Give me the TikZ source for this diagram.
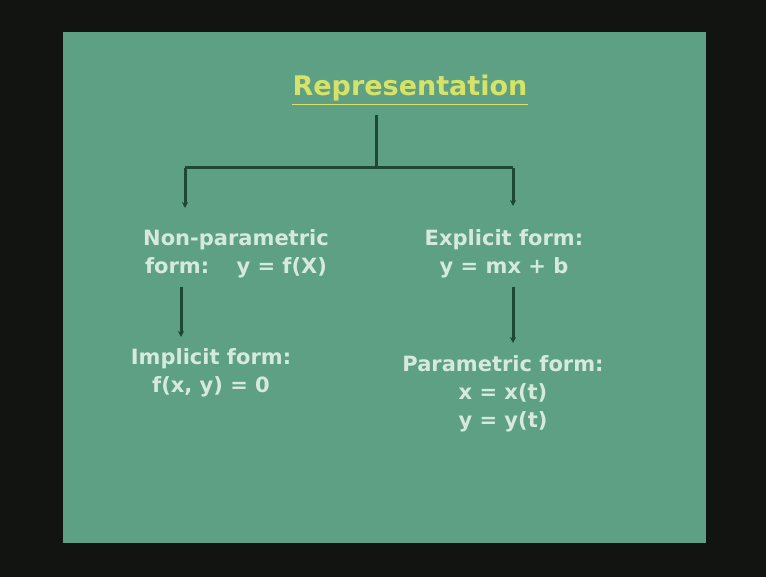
\documentclass[tikz,border=0pt]{standalone}
\usepackage{fontspec}
\setmainfont{DejaVu Sans}
\usetikzlibrary{arrows.meta}
\definecolor{bg}{RGB}{18,20,18}
\definecolor{slide}{RGB}{94,160,132}
\definecolor{txt}{RGB}{214,234,220}
\definecolor{ttl}{RGB}{214,226,104}
\definecolor{ln}{RGB}{28,72,52}
\begin{document}
\begin{tikzpicture}[x=1pt,y=-1pt,
  lbl/.style={text=txt,font=\bfseries\fontsize{21}{28}\selectfont,align=center,inner sep=0pt},
  conn/.style={draw=ln,line width=3pt},
  arr/.style={conn,-{Stealth[length=6pt,width=6pt]}}]
\useasboundingbox (0,0) rectangle (766,577);
\fill[bg] (0,0) rectangle (766,577);
\fill[slide] (63,32) rectangle (706,543);
\node[text=ttl,font=\bfseries\fontsize{27}{30}\selectfont,inner sep=0pt] (title) at (410,88) {Representation};
\draw[ttl,line width=1pt] ([yshift=-3pt]title.south west) -- ([yshift=-3pt]title.south east);
\node[lbl] (np) at (236,254) {Non-parametric\\form:\hspace{1.3em}y = f(X)};
\node[lbl] (ex) at (504,254) {Explicit form:\\y = mx + b};
\node[lbl] (im) at (211,373) {Implicit form:\\f(x, y) = 0};
\node[lbl] (pa) at (503,394) {Parametric form:\\x = x(t)\\y = y(t)};
\coordinate (top) at (376,115);
\coordinate (J) at (376,168);
\coordinate (L) at (185,168);
\coordinate (R) at (513,168);
\coordinate (Ltip) at (185,208);
\coordinate (Rtip) at (513,206);
\coordinate (npb) at (181,287);
\coordinate (imt) at (181,337);
\coordinate (exb) at (513,287);
\coordinate (pat) at (513,343);
\draw[conn] (top) -- (J);
\draw[conn] (L) -- (R);
\draw[arr] (L) -- (Ltip);
\draw[arr] (R) -- (Rtip);
\draw[arr] (npb) -- (imt);
\draw[arr] (exb) -- (pat);
\end{tikzpicture}
\end{document}
